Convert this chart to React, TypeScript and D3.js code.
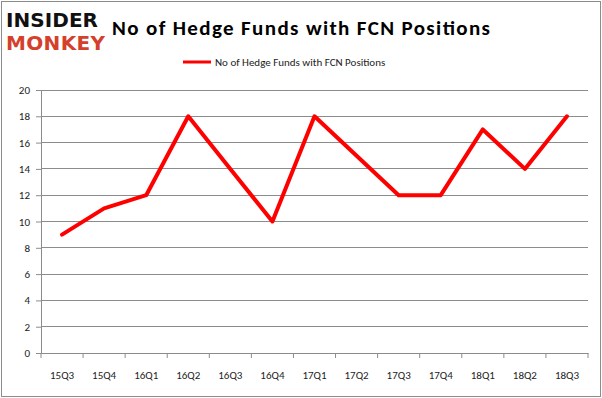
import React, { useEffect, useRef } from 'react';
import * as d3 from 'd3';

const quarters = ['15Q3', '15Q4', '16Q1', '16Q2', '16Q3', '16Q4', '17Q1', '17Q2', '17Q3', '17Q4', '18Q1', '18Q2', '18Q3'];
const funds = [9, 11, 12, 18, 14, 10, 18, 15, 12, 12, 17, 14, 18];
const yTicks = [0, 2, 4, 6, 8, 10, 12, 14, 16, 18, 20];
const seriesName = 'No of Hedge Funds with FCN Positions';

const App = () => {
  const svgRef = useRef<SVGSVGElement>(null);

  useEffect(() => {
    const width = 602;
    const height = 398;
    const margin = { top: 90, right: 14, bottom: 45, left: 41 };
    const font = 'Calibri, Carlito, "Open Sans", sans-serif';

    d3.select(svgRef.current).selectAll('*').remove();
    const root = d3.select(svgRef.current).attr('width', width).attr('height', height);

    // outer frame
    root.append('rect')
      .attr('x', 1.5).attr('y', 1.5)
      .attr('width', width - 3).attr('height', height - 3)
      .attr('fill', '#fff').attr('stroke', '#8c8c8c');

    // logo
    root.append('text').attr('x', 6).attr('y', 27)
      .attr('font-family', 'DejaVu Sans, sans-serif').attr('font-weight', 'bold')
      .attr('font-size', 20).attr('fill', '#111').attr('textLength', 92)
      .text('INSIDER');
    root.append('text').attr('x', 6).attr('y', 50)
      .attr('font-family', 'DejaVu Sans, sans-serif').attr('font-weight', 'bold')
      .attr('font-size', 20).attr('fill', '#d4402b').attr('textLength', 99)
      .text('MONKEY');

    // title
    root.append('text').attr('x', 112).attr('y', 35)
      .attr('font-family', font).attr('font-weight', 'bold')
      .attr('font-size', 21).attr('fill', '#000').attr('textLength', 378)
      .text(seriesName);

    const innerW = width - margin.left - margin.right;
    const innerH = height - margin.top - margin.bottom;

    const x = d3.scaleBand().domain(quarters).range([0, innerW]);
    const y = d3.scaleLinear().domain([0, 20]).range([innerH, 0]);

    // legend
    root.append('line')
      .attr('x1', 183).attr('x2', 211).attr('y1', 62).attr('y2', 62)
      .attr('stroke', '#ff0000').attr('stroke-width', 3);
    root.append('text').attr('x', 215).attr('y', 66)
      .attr('font-family', font).attr('font-size', 11).attr('fill', '#222')
      .text(seriesName);

    const svg = root.append('g').attr('transform', `translate(${margin.left},${margin.top})`);

    // gridlines
    svg.selectAll('.grid').data(yTicks).enter().append('line')
      .attr('x1', 0).attr('x2', innerW)
      .attr('y1', d => y(d)).attr('y2', d => y(d))
      .attr('stroke', '#8c8c8c').attr('stroke-width', 1)
      .attr('shape-rendering', 'crispEdges');

    // y axis
    const yAxis = svg.append('g')
      .call(d3.axisLeft(y).tickValues(yTicks).tickSize(5).tickPadding(6));
    yAxis.select('.domain').attr('stroke', '#8c8c8c');
    yAxis.selectAll('.tick line').attr('stroke', '#8c8c8c');
    yAxis.selectAll('text').attr('font-family', font).attr('font-size', 11).attr('fill', '#222');

    // x axis
    const xAxis = svg.append('g').attr('transform', `translate(0,${innerH})`)
      .call(d3.axisBottom(x).tickSize(0).tickPadding(18));
    xAxis.select('.domain').attr('stroke', '#8c8c8c');
    xAxis.selectAll('text').attr('font-family', font).attr('font-size', 11).attr('fill', '#222');
    svg.append('g').selectAll('line')
      .data(d3.range(quarters.length + 1))
      .enter().append('line')
      .attr('x1', i => i * x.bandwidth()).attr('x2', i => i * x.bandwidth())
      .attr('y1', innerH).attr('y2', innerH + 5)
      .attr('stroke', '#8c8c8c');

    // line
    const line = d3.line<number>()
      .x((_, i) => (x(quarters[i]) as number) + x.bandwidth() / 2)
      .y(d => y(d));
    svg.append('path').datum(funds)
      .attr('d', line)
      .attr('fill', 'none')
      .attr('stroke', '#ff0000')
      .attr('stroke-width', 4)
      .attr('stroke-linejoin', 'round')
      .attr('stroke-linecap', 'round');
  }, []);

  return <svg ref={svgRef} style={{ position: 'absolute', left: 0, top: 0 }} />;
};

export default App;
